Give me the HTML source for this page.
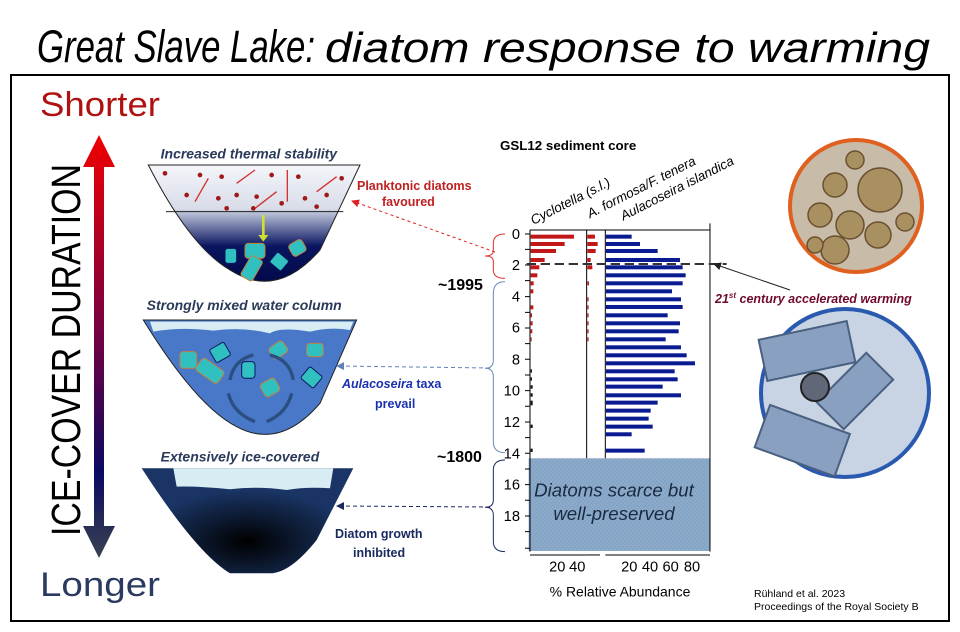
<!DOCTYPE html>
<html><head><meta charset="utf-8"><style>
html,body{margin:0;padding:0;background:#fff}
svg{display:block;font-family:"Liberation Sans",Arial,sans-serif}
</style></head><body>
<svg width="960" height="632" viewBox="0 0 960 632" xmlns="http://www.w3.org/2000/svg">
<defs>
<linearGradient id="arr" x1="0" y1="0" x2="0" y2="1">
<stop offset="0" stop-color="#f00000"/><stop offset="0.45" stop-color="#7a0040"/><stop offset="0.8" stop-color="#0a0a60"/><stop offset="1" stop-color="#3a4250"/></linearGradient>
<linearGradient id="l1" x1="0" y1="0" x2="0" y2="1">
<stop offset="0" stop-color="#f4f6fa"/><stop offset="0.38" stop-color="#d8dce8"/><stop offset="0.4" stop-color="#c0c8dc"/><stop offset="0.7" stop-color="#0a1560"/><stop offset="1" stop-color="#020a4a"/></linearGradient>
<radialGradient id="l3" cx="0.5" cy="0.7" r="0.5"><stop offset="0" stop-color="#000"/><stop offset="1" stop-color="#1a3565"/></radialGradient>
<pattern id="hatch" width="4" height="4" patternUnits="userSpaceOnUse"><rect width="4" height="4" fill="#4a78a8"/><rect width="2" height="2" fill="#c8d8e8"/><rect x="2" y="2" width="2" height="2" fill="#c8d8e8"/></pattern>
<marker id="ah" markerWidth="8" markerHeight="8" refX="7" refY="4" orient="auto"><path d="M0,0L8,4L0,8z" fill="#222"/></marker>
<marker id="ahr" markerWidth="8" markerHeight="8" refX="7" refY="4" orient="auto"><path d="M0,0L8,4L0,8z" fill="#e02020"/></marker>
<marker id="ahb" markerWidth="8" markerHeight="8" refX="7" refY="4" orient="auto"><path d="M0,0L8,4L0,8z" fill="#6080b8"/></marker>
<marker id="ahd" markerWidth="8" markerHeight="8" refX="7" refY="4" orient="auto"><path d="M0,0L8,4L0,8z" fill="#1a2a60"/></marker>
</defs>
<text x="37" y="62" font-size="45" font-style="italic" fill="#000" textLength="278" lengthAdjust="spacingAndGlyphs">Great Slave Lake:</text>
<text x="325" y="62" font-size="42" font-style="italic" fill="#000" textLength="605" lengthAdjust="spacingAndGlyphs">diatom response to warming</text>
<rect x="11" y="75" width="938" height="546" fill="none" stroke="#000" stroke-width="2"/>
<text x="40" y="116" font-size="34" fill="#b01010" textLength="120" lengthAdjust="spacingAndGlyphs">Shorter</text>
<text x="40" y="596" font-size="34" fill="#2a3a60" textLength="120" lengthAdjust="spacingAndGlyphs">Longer</text>
<path d="M99,135 L115,167 L104,167 L104,526 L115,526 L99,558 L83,526 L94,526 L94,167 L83,167Z" fill="url(#arr)"/>
<text transform="translate(80,536) rotate(-90)" font-size="41" fill="#000" textLength="372" lengthAdjust="spacingAndGlyphs">ICE-COVER DURATION</text>

<!-- lakes -->
<g transform="translate(130,140) scale(0.3333)">
<text x="92" y="55" font-size="42" font-style="italic" font-weight="bold" fill="#2a3a5a">Increased thermal stability</text>
<path d="M55,75 L690,75 L570,330 Q440,480 300,390 Q180,320 55,75Z" fill="url(#l1)" stroke="#222" stroke-width="3"/>
<line x1="108" y1="215" x2="640" y2="215" stroke="#222" stroke-width="3"/>
<g fill="#a01818"><circle cx="105" cy="100" r="7"/><circle cx="170" cy="165" r="7"/><circle cx="210" cy="105" r="7"/><circle cx="275" cy="110" r="7"/><circle cx="265" cy="175" r="7"/><circle cx="320" cy="165" r="7"/><circle cx="380" cy="170" r="7"/><circle cx="425" cy="105" r="7"/><circle cx="455" cy="190" r="7"/><circle cx="505" cy="110" r="7"/><circle cx="525" cy="175" r="7"/><circle cx="590" cy="165" r="7"/><circle cx="635" cy="115" r="7"/><circle cx="290" cy="205" r="7"/><circle cx="370" cy="205" r="7"/><circle cx="560" cy="200" r="7"/></g>
<g stroke="#d03030" stroke-width="4"><line x1="195" y1="185" x2="235" y2="115"/><line x1="375" y1="205" x2="440" y2="155"/><line x1="560" y1="155" x2="620" y2="110"/><line x1="472" y1="90" x2="472" y2="185"/><line x1="320" y1="130" x2="375" y2="90"/></g>
<path d="M400,225 L400,290" stroke="#d0e030" stroke-width="8"/><path d="M385,285 L400,305 L415,285Z" fill="#d0e030"/>
<g fill="#30c0c0" stroke="#c08040" stroke-width="3"><rect x="345" y="310" width="60" height="45" rx="10"/><rect x="480" y="305" width="45" height="40" rx="10" transform="rotate(-30 500 325)"/><rect x="345" y="350" width="40" height="70" rx="8" transform="rotate(30 365 385)"/></g>
<g fill="#30c0c0" stroke="#0a1560" stroke-width="3"><rect x="285" y="325" width="35" height="45" rx="8"/><rect x="425" y="345" width="45" height="40" rx="6" transform="rotate(40 448 365)"/></g>

<text x="50" y="510" font-size="42" font-style="italic" font-weight="bold" fill="#2a3a5a">Strongly mixed water column</text>
<path d="M40,540 L680,540 L570,790 Q450,930 320,860 Q200,800 40,540Z" fill="#4a78c8" stroke="#222" stroke-width="3"/>
<path d="M60,545 L670,545 L660,570 Q600,560 540,575 Q450,560 420,580 Q340,560 250,572 Q150,560 70,575Z" fill="#d8ecf4"/>
<g fill="#30c0c0" stroke="#c08040" stroke-width="3"><rect x="200" y="670" width="80" height="45" rx="10" transform="rotate(35 240 692)"/><rect x="150" y="635" width="50" height="50" rx="10"/><rect x="420" y="610" width="50" height="40" rx="10" transform="rotate(-35 445 630)"/><rect x="530" y="610" width="50" height="40" rx="10"/><rect x="395" y="720" width="50" height="45" rx="10" transform="rotate(-30 420 742)"/></g>
<g fill="#30c0c0" stroke="#0a1560" stroke-width="3"><rect x="245" y="615" width="50" height="45" rx="6" transform="rotate(-30 270 637)"/><rect x="335" y="665" width="40" height="50" rx="10"/><rect x="520" y="690" width="50" height="45" rx="6" transform="rotate(40 545 712)"/></g>
<g fill="none" stroke="#2a4f80" stroke-width="10"><path d="M300,720 Q310,660 370,645"/><path d="M420,645 Q480,660 490,720"/><path d="M485,760 Q470,820 410,845"/><path d="M375,845 Q310,820 295,760"/></g>

<text x="92" y="965" font-size="42" font-style="italic" font-weight="bold" fill="#2a3a5a">Extensively ice-covered</text>
<path d="M35,985 L670,985 L560,1200 Q480,1300 420,1300 L300,1300 Q200,1240 35,985Z" fill="url(#l3)"/>
<path d="M130,985 L610,985 L600,1045 Q530,1040 470,1050 Q380,1038 300,1048 Q200,1038 140,1040Z" fill="#d8ecf4"/>
</g>
<text x="357" y="190" font-size="12.5" font-weight="bold" fill="#c02020">Planktonic diatoms</text>
<text x="382" y="206" font-size="12.5" font-weight="bold" fill="#c02020">favoured</text>
<line x1="495" y1="252" x2="352" y2="201" stroke="#e02020" stroke-dasharray="3,3" marker-end="url(#ahr)"/>
<text x="342" y="388" font-size="12.5" font-weight="bold" font-style="italic" fill="#1a30b0">Aulacoseira <tspan font-style="normal">taxa</tspan></text>
<text x="375" y="408" font-size="12.5" font-weight="bold" fill="#1a30b0">prevail</text>
<line x1="490" y1="368" x2="337" y2="366" stroke="#6080b8" stroke-dasharray="4,3" marker-end="url(#ahb)"/>
<text x="335" y="538" font-size="12.5" font-weight="bold" fill="#1a2a60">Diatom growth</text>
<text x="353" y="557" font-size="12.5" font-weight="bold" fill="#1a2a60">inhibited</text>
<line x1="490" y1="507" x2="337" y2="506" stroke="#1a2a60" stroke-dasharray="4,3" marker-end="url(#ahd)"/>
<text x="438" y="290" font-size="16" font-weight="bold">~1995</text>
<text x="437" y="462" font-size="16" font-weight="bold">~1800</text>

<!-- chart -->
<g transform="translate(480,130) scale(0.3333)">
<text x="60" y="60" font-size="40" font-weight="bold">GSL12 sediment core</text>
<text transform="translate(160,285) rotate(-27)" font-size="40" font-style="italic">Cyclotella (s.l.)</text>
<text transform="translate(330,265) rotate(-27)" font-size="40" font-style="italic">A. formosa/F. tenera</text>
<text transform="translate(430,272) rotate(-27)" font-size="40" font-style="italic">Aulacoseira islandica</text>
<rect x="146" y="985" width="544" height="278" fill="url(#hatch)"/>
<text x="402" y="1100" font-size="56" font-style="italic" fill="#1a2a40" text-anchor="middle">Diatoms scarce but</text>
<text x="402" y="1170" font-size="56" font-style="italic" fill="#1a2a40" text-anchor="middle">well-preserved</text>
<g stroke="#000" stroke-width="3" fill="none">
<line x1="150" y1="300" x2="150" y2="1265"/><line x1="320" y1="300" x2="320" y2="985"/><line x1="376" y1="300" x2="376" y2="985"/><line x1="690" y1="280" x2="690" y2="1265"/>
<line x1="150" y1="300" x2="690" y2="300"/>
<line x1="150" y1="1275" x2="320" y2="1275"/><line x1="320" y1="1275" x2="360" y2="1275"/><line x1="376" y1="1275" x2="690" y2="1275"/>
<path d="M135,312h15M135,358h15M135,405h15M135,452h15M135,500h15M135,547h15M135,594h15M135,641h15M135,688h15M135,735h15M135,782h15M135,829h15M135,876h15M135,923h15M135,970h15M135,1017h15M135,1064h15M135,1111h15M135,1158h15M135,1205h15M135,1255h15"/>
</g>
<g font-size="44" text-anchor="end"><text x="120" y="327">0</text><text x="120" y="420">2</text><text x="120" y="515">4</text><text x="120" y="608">6</text><text x="120" y="703">8</text><text x="120" y="797">10</text><text x="120" y="891">12</text><text x="120" y="985">14</text><text x="120" y="1079">16</text><text x="120" y="1173">18</text></g>
<g font-size="44" text-anchor="middle"><text x="232" y="1325">20</text><text x="292" y="1325">40</text><text x="448" y="1325">20</text><text x="510" y="1325">40</text><text x="572" y="1325">60</text><text x="636" y="1325">80</text></g>
<text x="420" y="1400" font-size="42" text-anchor="middle">% Relative Abundance</text>
<g fill="#0a1a90">
<rect x="378" y="314" width="77" height="12"/><rect x="378" y="336" width="102" height="12"/><rect x="378" y="357" width="155" height="12"/><rect x="378" y="384" width="222" height="12"/><rect x="378" y="406" width="230" height="12"/><rect x="378" y="430" width="239" height="12"/><rect x="378" y="454" width="230" height="12"/><rect x="378" y="478" width="198" height="12"/><rect x="378" y="502" width="225" height="12"/><rect x="378" y="525" width="230" height="12"/><rect x="378" y="550" width="185" height="12"/><rect x="378" y="574" width="222" height="12"/><rect x="378" y="598" width="218" height="12"/><rect x="378" y="622" width="179" height="12"/><rect x="378" y="646" width="225" height="12"/><rect x="378" y="670" width="242" height="12"/><rect x="378" y="694" width="267" height="12"/><rect x="378" y="718" width="206" height="12"/><rect x="378" y="742" width="215" height="12"/><rect x="378" y="764" width="170" height="12"/><rect x="378" y="790" width="225" height="12"/><rect x="378" y="812" width="155" height="12"/><rect x="378" y="836" width="134" height="12"/><rect x="378" y="860" width="128" height="12"/><rect x="378" y="884" width="140" height="12"/><rect x="378" y="907" width="77" height="12"/><rect x="378" y="956" width="116" height="12"/>
</g>
<g fill="#c01818">
<rect x="152" y="314" width="130" height="12"/><rect x="152" y="336" width="102" height="12"/><rect x="152" y="357" width="76" height="12"/><rect x="152" y="384" width="42" height="12"/><rect x="152" y="406" width="26" height="12"/><rect x="152" y="430" width="20" height="12"/><rect x="152" y="454" width="9" height="12"/><rect x="152" y="478" width="8" height="12"/><rect x="152" y="526" width="8" height="12"/><rect x="152" y="550" width="4" height="12"/><rect x="152" y="574" width="6" height="12"/><rect x="152" y="598" width="5" height="12"/><rect x="152" y="622" width="3" height="12"/>
<rect x="322" y="314" width="23" height="12"/><rect x="322" y="336" width="31" height="12"/><rect x="322" y="357" width="25" height="12"/><rect x="322" y="384" width="10" height="12"/><rect x="322" y="406" width="15" height="12"/><rect x="322" y="454" width="5" height="12"/><rect x="322" y="502" width="4" height="12"/><rect x="322" y="526" width="4" height="12"/><rect x="322" y="550" width="4" height="12"/><rect x="322" y="574" width="4" height="12"/><rect x="322" y="598" width="4" height="12"/><rect x="322" y="622" width="4" height="12"/>
</g>
<g fill="#111"><rect x="152" y="718" width="4" height="10"/><rect x="152" y="742" width="4" height="10"/><rect x="152" y="766" width="6" height="10"/><rect x="152" y="790" width="6" height="10"/><rect x="152" y="812" width="6" height="14"/><rect x="152" y="884" width="6" height="10"/><rect x="152" y="956" width="6" height="10"/></g>
<line x1="140" y1="402" x2="740" y2="402" stroke="#333" stroke-width="6" stroke-dasharray="28,14"/>
<path d="M75,312 Q40,312 40,340 L40,362 Q40,378 15,378 Q40,378 40,394 L40,420 Q40,445 75,445" fill="none" stroke="#e03030" stroke-width="3"/>
<path d="M75,455 Q40,455 40,490 L40,690 Q40,715 15,715 Q40,715 40,740 L40,935 Q40,968 75,968" fill="none" stroke="#6a8ab8" stroke-width="3"/>
<path d="M75,990 Q40,990 40,1020 L40,1110 Q40,1132 15,1132 Q40,1132 40,1155 L40,1235 Q40,1265 75,1265" fill="none" stroke="#1a2a60" stroke-width="3"/>
</g>
<line x1="790" y1="290" x2="714" y2="264" stroke="#222" stroke-width="1" marker-end="url(#ah)"/>
<text x="715" y="303" font-size="12.5" font-weight="bold" font-style="italic" fill="#700a2a">21<tspan font-size="8" dy="-5">st</tspan><tspan dy="5"> century accelerated warming</tspan></text>

<circle cx="856" cy="206" r="66" fill="#c8bca8" stroke="#e06020" stroke-width="4"/>
<g fill="#a89060" stroke="#6a5030" stroke-width="1.5"><circle cx="880" cy="190" r="22"/><circle cx="835" cy="185" r="12"/><circle cx="850" cy="225" r="14"/><circle cx="820" cy="215" r="12"/><circle cx="878" cy="235" r="13"/><circle cx="835" cy="250" r="14"/><circle cx="855" cy="160" r="9"/><circle cx="815" cy="245" r="8"/><circle cx="905" cy="222" r="9"/></g>
<circle cx="845" cy="393" r="84" fill="#c8d4e4" stroke="#2a5ab0" stroke-width="4"/>
<g fill="#8aa0c0" stroke="#4a6080" stroke-width="2"><rect x="762" y="330" width="90" height="42" transform="rotate(-12 807 351)"/><rect x="820" y="372" width="70" height="38" transform="rotate(-45 855 391)"/><rect x="760" y="418" width="85" height="45" transform="rotate(20 802 440)"/></g>
<circle cx="815" cy="387" r="14" fill="#606878" stroke="#222" stroke-width="2"/>
<text x="754" y="597" font-size="10.5">Rühland et al. 2023</text>
<text x="754" y="610" font-size="10.5">Proceedings of the Royal Society B</text>
</svg>
</body></html>
